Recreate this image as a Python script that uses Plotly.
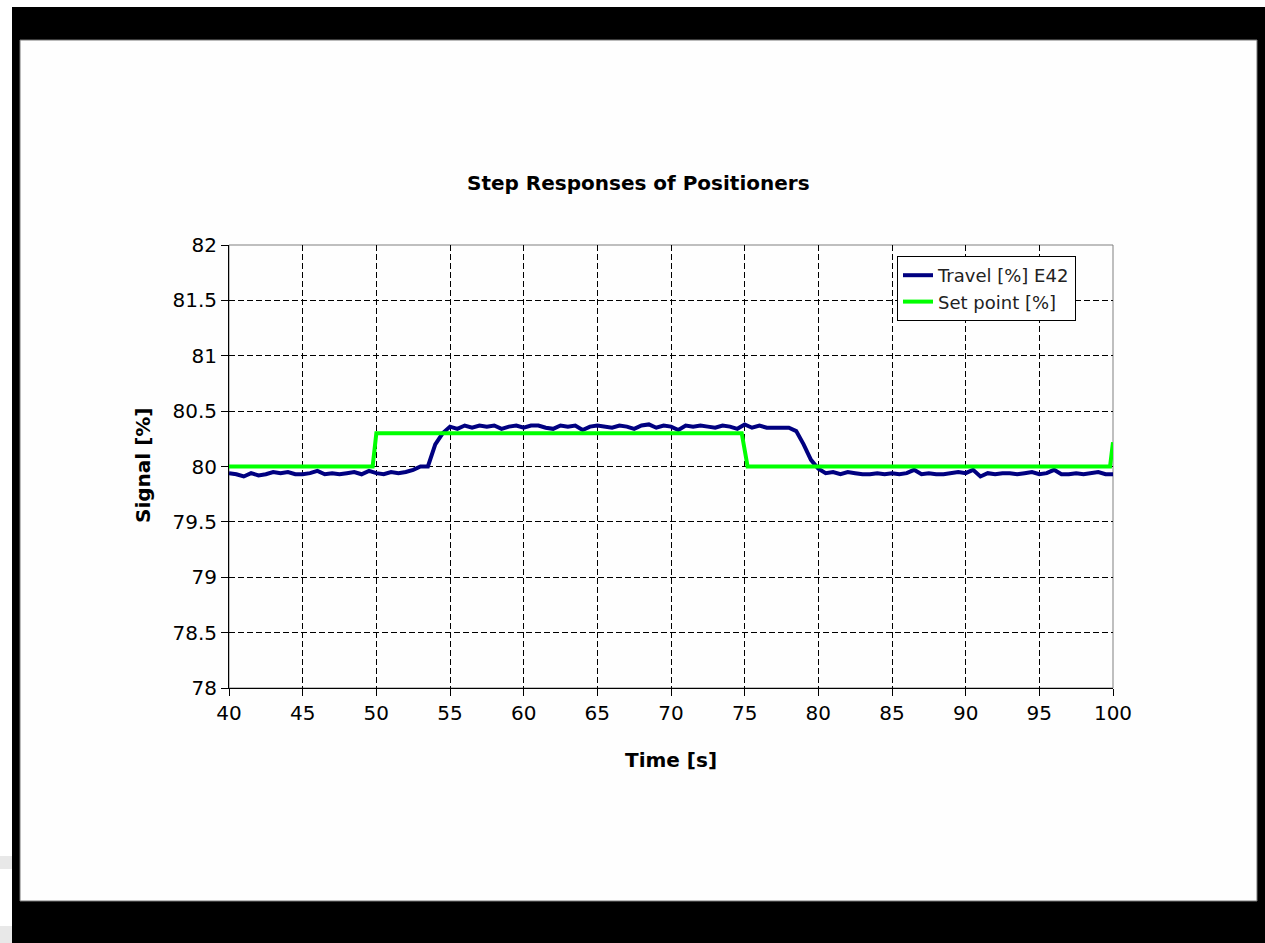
import plotly.graph_objects as go

# ---- data ----
time_travel = [40 + 0.5 * i for i in range(121)]
travel = [
    # 40 - 49.5
    79.94, 79.93, 79.91, 79.94, 79.92, 79.93, 79.95, 79.94, 79.95, 79.93,
    79.93, 79.94, 79.96, 79.93, 79.94, 79.93, 79.94, 79.95, 79.93, 79.96,
    # 50 - 54.5
    79.94, 79.93, 79.95, 79.94, 79.95, 79.97, 80.00, 80.00, 80.20, 80.30,
    # 55 - 78
    80.36, 80.34, 80.37, 80.35, 80.37, 80.36, 80.37, 80.34, 80.36, 80.37,
    80.35, 80.37, 80.37, 80.35, 80.34, 80.37, 80.36, 80.37, 80.33, 80.36,
    80.37, 80.36, 80.35, 80.37, 80.36, 80.34, 80.37, 80.38, 80.35, 80.37,
    80.36, 80.33, 80.37, 80.36, 80.37, 80.36, 80.35, 80.37, 80.36, 80.34,
    80.38, 80.35, 80.37, 80.35, 80.35, 80.35, 80.35,
    # 78.5 - 80
    80.32, 80.20, 80.06, 79.98,
    # 80.5 - 100
    79.94, 79.95, 79.93, 79.95, 79.94, 79.93, 79.93, 79.94, 79.93, 79.94,
    79.93, 79.94, 79.97, 79.93, 79.94, 79.93, 79.93, 79.94, 79.95, 79.94,
    79.97, 79.91, 79.94, 79.93, 79.94, 79.94, 79.93, 79.94, 79.95, 79.93,
    79.94, 79.97, 79.93, 79.93, 79.94, 79.93, 79.94, 79.95, 79.93, 79.93,
]
time_setpoint = [40, 49.75, 50.0, 74.8, 75.2, 99.8, 100.0]
setpoint = [80.0, 80.0, 80.3, 80.3, 80.0, 80.0, 80.22]

x_ticks = [40, 45, 50, 55, 60, 65, 70, 75, 80, 85, 90, 95, 100]
y_ticks = [78, 78.5, 79, 79.5, 80, 80.5, 81, 81.5, 82]
y_tick_labels = ["78", "78.5", "79", "79.5", "80", "80.5", "81", "81.5", "82"]

# ---- layout geometry (pixels; page body margin set to 0) ----
W, H = 1265, 943
L, R, T, B = 229, 1113, 245, 688


def px_x(p):
    return (p - L) / (R - L)


def px_y(p):
    return (B - p) / (B - T)


FONT = "DejaVu Sans, Liberation Sans, Arial, sans-serif"
FS = 20

fig = go.Figure()
fig.add_trace(go.Scatter(
    x=time_travel, y=travel, mode="lines", name="Travel [%] E42",
    line=dict(color="#000080", width=4),
))
fig.add_trace(go.Scatter(
    x=time_setpoint, y=setpoint, mode="lines", name="Set point [%]",
    line=dict(color="#00FF00", width=4),
))

shapes = [
    # black frame
    dict(type="rect", xref="paper", yref="paper", layer="below",
         x0=px_x(12), x1=px_x(1266), y0=px_y(7), y1=px_y(944),
         fillcolor="black", line=dict(width=0)),
    # white slide area
    dict(type="rect", xref="paper", yref="paper", layer="below",
         x0=px_x(20), x1=px_x(1257), y0=px_y(40), y1=px_y(901),
         fillcolor="#FEFEFE", line=dict(color="#777777", width=1)),
    # light grey stripes at far left
    dict(type="rect", xref="paper", yref="paper", layer="below",
         x0=px_x(0), x1=px_x(12), y0=px_y(856), y1=px_y(869),
         fillcolor="#E8E8E8", line=dict(width=0)),
    dict(type="rect", xref="paper", yref="paper", layer="below",
         x0=px_x(0), x1=px_x(12), y0=px_y(926), y1=px_y(944),
         fillcolor="#E8E8E8", line=dict(width=0)),
    # grey plot-area border (top / right)
    dict(type="rect", xref="paper", yref="paper", layer="below",
         x0=0, x1=1, y0=0, y1=1,
         fillcolor="rgba(0,0,0,0)", line=dict(color="#808080", width=1)),
]

annotations = [
    dict(text="<b>Signal [%]</b>", xref="paper", yref="paper",
         x=px_x(143), y=px_y(466), xanchor="center", yanchor="middle",
         textangle=-90, showarrow=False,
         font=dict(family=FONT, size=FS, color="black")),
    dict(text="<b>Time [s]</b>", xref="paper", yref="paper",
         x=px_x(671), y=px_y(760), xanchor="center", yanchor="middle",
         showarrow=False, font=dict(family=FONT, size=FS, color="black")),
    dict(text="<b>Step Responses of Positioners</b>", xref="paper", yref="paper",
         x=px_x(638.5), y=px_y(183), xanchor="center", yanchor="middle",
         showarrow=False, font=dict(family=FONT, size=FS, color="black")),
]

fig.update_layout(
    width=W, height=H,
    margin=dict(l=L, r=W - R, t=T, b=H - B, pad=0),
    paper_bgcolor="white", plot_bgcolor="rgba(0,0,0,0)",
    shapes=shapes, annotations=annotations,
    showlegend=True,
    legend=dict(
        x=px_x(897), y=px_y(256), xanchor="left", yanchor="top",
        bgcolor="white", bordercolor="black", borderwidth=1,
        font=dict(family=FONT, size=FS - 2, color="#222222"),
        tracegroupgap=0, itemwidth=30,
    ),
    font=dict(family=FONT, color="black"),
)
fig.update_xaxes(
    range=[40, 100], tickvals=x_ticks, ticktext=[str(v) for v in x_ticks],
    showgrid=True, gridcolor="black", gridwidth=1, griddash="6px,3px",
    showline=True, linecolor="black", linewidth=1,
    ticks="outside", ticklen=7, tickcolor="black",
    tickfont=dict(family=FONT, size=FS, color="black"),
    zeroline=False, fixedrange=True,
)
fig.update_yaxes(
    range=[78, 82], tickvals=y_ticks, ticktext=y_tick_labels,
    showgrid=True, gridcolor="black", gridwidth=1, griddash="6px,3px",
    showline=True, linecolor="black", linewidth=1,
    ticks="outside", ticklen=7, tickcolor="black",
    tickfont=dict(family=FONT, size=FS, color="black"),
    zeroline=False, fixedrange=True,
)

fig.write_html(
    "out.html",
    config={"displayModeBar": False},
    post_script="document.body.style.margin='0';document.body.style.overflow='hidden';",
)
